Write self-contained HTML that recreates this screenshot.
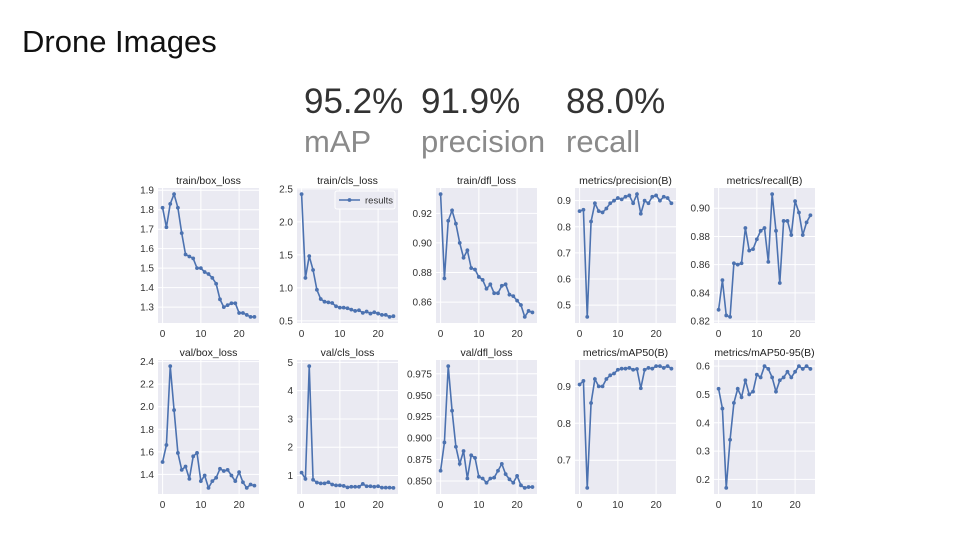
<!DOCTYPE html>
<html><head><meta charset="utf-8"><style>
body{margin:0;width:960px;height:540px;background:#fff;overflow:hidden;font-family:"Liberation Sans",sans-serif;position:relative}
.t{position:absolute;white-space:nowrap}
</style></head><body>
<div class="t" style="left:22px;top:24px;font-size:31px;color:#111">Drone Images</div>
<div class="t" style="left:304px;top:82px;font-size:35px;color:#333">95.2%</div>
<div class="t" style="left:421px;top:82px;font-size:35px;color:#333">91.9%</div>
<div class="t" style="left:566px;top:82px;font-size:35px;color:#333">88.0%</div>
<div class="t" style="left:304px;top:124px;font-size:31px;color:#8a8a8a">mAP</div>
<div class="t" style="left:421px;top:124px;font-size:31px;color:#8a8a8a">precision</div>
<div class="t" style="left:566px;top:124px;font-size:31px;color:#8a8a8a">recall</div>
<svg id="s" width="960" height="540" style="position:absolute;left:0;top:0"></svg>
<script>
const P=[
["train/box_loss",[1.81,1.71,1.83,1.88,1.81,1.68,1.57,1.56,1.55,1.50,1.50,1.48,1.47,1.45,1.42,1.34,1.30,1.31,1.32,1.32,1.27,1.27,1.26,1.25,1.25],[1.3,1.4,1.5,1.6,1.7,1.8,1.9],1],
["train/cls_loss",[2.42,1.15,1.48,1.27,0.97,0.83,0.79,0.78,0.77,0.72,0.70,0.70,0.69,0.67,0.65,0.66,0.62,0.64,0.61,0.63,0.61,0.59,0.59,0.56,0.57],[0.5,1.0,1.5,2.0,2.5],1],
["train/dfl_loss",[0.933,0.876,0.915,0.922,0.913,0.90,0.89,0.895,0.883,0.882,0.877,0.875,0.869,0.872,0.866,0.866,0.871,0.872,0.865,0.864,0.861,0.858,0.85,0.854,0.853],[0.86,0.88,0.90,0.92],2],
["metrics/precision(B)",[0.86,0.865,0.455,0.82,0.89,0.86,0.855,0.87,0.89,0.9,0.91,0.905,0.915,0.92,0.89,0.925,0.85,0.9,0.89,0.915,0.92,0.9,0.915,0.91,0.89],[0.5,0.6,0.7,0.8,0.9],1],
["metrics/recall(B)",[0.828,0.849,0.824,0.823,0.861,0.86,0.861,0.886,0.87,0.871,0.878,0.884,0.886,0.862,0.91,0.884,0.847,0.891,0.891,0.881,0.905,0.897,0.881,0.89,0.895],[0.82,0.84,0.86,0.88,0.90],2],
["val/box_loss",[1.51,1.66,2.36,1.97,1.59,1.44,1.47,1.36,1.56,1.59,1.34,1.39,1.28,1.34,1.37,1.45,1.43,1.44,1.39,1.34,1.42,1.33,1.28,1.31,1.30],[1.4,1.6,1.8,2.0,2.2,2.4],1],
["val/cls_loss",[1.1,0.88,4.87,0.85,0.75,0.72,0.72,0.76,0.68,0.65,0.65,0.63,0.58,0.6,0.6,0.6,0.7,0.62,0.62,0.6,0.62,0.57,0.57,0.57,0.56],[1,2,3,4,5],0],
["val/dfl_loss",[0.862,0.895,0.984,0.932,0.89,0.87,0.885,0.853,0.88,0.877,0.855,0.853,0.848,0.853,0.854,0.862,0.87,0.858,0.852,0.848,0.856,0.845,0.842,0.843,0.843],[0.85,0.875,0.9,0.925,0.95,0.975],3],
["metrics/mAP50(B)",[0.905,0.915,0.625,0.855,0.92,0.9,0.9,0.92,0.93,0.935,0.945,0.948,0.948,0.95,0.945,0.947,0.895,0.945,0.95,0.948,0.955,0.955,0.95,0.955,0.948],[0.7,0.8,0.9],1],
["metrics/mAP50-95(B)",[0.52,0.45,0.17,0.34,0.47,0.52,0.49,0.55,0.5,0.51,0.57,0.56,0.6,0.59,0.56,0.51,0.55,0.56,0.58,0.56,0.58,0.6,0.59,0.6,0.59],[0.2,0.3,0.4,0.5,0.6],1]];
let h='';
P.forEach((p,i)=>{
 const c=i%5,r=Math.floor(i/5);
 const L=158+c*139,W=101,T=r?360:188,B=r?494:323,H=B-T;
 const d=p[1];let mn=Math.min(...d),mx=Math.max(...d),m=(mx-mn)*0.05;mn-=m;mx+=m;
 const X=x=>L+(x+1.2)/26.4*W,Y=v=>B-(v-mn)/(mx-mn)*H;
 h+=`<rect x="${L}" y="${T}" width="${W}" height="${H}" fill="#eaeaf2"/>`;
 [0,10,20].forEach(t=>{h+=`<line x1="${X(t)}" x2="${X(t)}" y1="${T}" y2="${B}" stroke="#fff" stroke-width="1"/><text x="${X(t)}" y="${B+14}" font-size="10" fill="#333" text-anchor="middle">${t}</text>`});
 p[2].forEach(t=>{if(t<mn||t>mx)return;h+=`<line x1="${L}" x2="${L+W}" y1="${Y(t)}" y2="${Y(t)}" stroke="#fff" stroke-width="1"/><text x="${L-4}" y="${Y(t)+3.5}" font-size="10" fill="#333" text-anchor="end">${t.toFixed(p[3])}</text>`});
 h+=`<text x="${L+W/2}" y="${T-4}" font-size="10.5" fill="#222" text-anchor="middle">${p[0]}</text>`;
 h+=`<polyline fill="none" stroke="#4c72b0" stroke-width="1.6" points="${d.map((v,k)=>X(k)+','+Y(v)).join(' ')}"/>`;
 d.forEach((v,k)=>h+=`<circle cx="${X(k)}" cy="${Y(v)}" r="1.9" fill="#4c72b0"/>`);
 if(i==1){h+=`<rect x="${L+W-63}" y="${T+3}" width="60" height="18" rx="2" fill="#eaeaf2" stroke="#fff"/><line x1="${L+W-59}" x2="${L+W-38}" y1="${T+12}" y2="${T+12}" stroke="#4c72b0" stroke-width="1.6"/><circle cx="${L+W-48.5}" cy="${T+12}" r="1.9" fill="#4c72b0"/><text x="${L+W-33}" y="${T+15.5}" font-size="9.5" fill="#333">results</text>`}
});
document.getElementById('s').innerHTML=h;
</script>
</body></html>
